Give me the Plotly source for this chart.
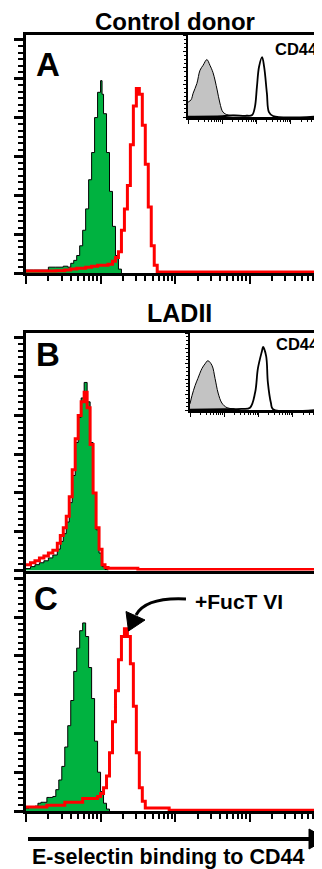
import plotly.graph_objects as go

W, H = 322, 869          # reference canvas
OFF = 8                  # page body margin that the browser adds around the plot
FW, FH = W - OFF, H - OFF

# ---------------- data (log10 fluorescence positions, event counts) ----------------
# Panel A - control donor
A_green_log = [0.00, 0.10, 0.20, 0.30, 0.40, 0.50, 0.56, 0.60, 0.64, 0.68, 0.72, 0.76, 0.80, 0.84,
               0.88, 0.92, 0.96, 1.00, 1.02, 1.04, 1.08, 1.12, 1.16, 1.20, 1.24, 1.28]
A_green_cnt = [1.5, 1.5, 1.5, 3, 3, 3.5, 3, 5, 6.5, 9, 14, 22, 33, 48,
               62, 80, 93, 99, 92, 82, 62, 42, 24, 9, 2, 0]
A_red_log = [0.00, 0.20, 0.40, 0.52, 0.60, 0.68, 0.80, 0.88, 0.96, 1.04, 1.10, 1.16, 1.20, 1.24,
             1.28, 1.32, 1.36, 1.40, 1.44, 1.48, 1.52, 1.56, 1.60, 1.64, 1.68, 1.72, 1.76, 3.97]
A_red_cnt = [1, 1, 1.2, 1.5, 2, 2.5, 3, 3.5, 4, 4, 4.5, 6, 8, 11,
             22, 33, 45, 66, 86, 95, 92, 76, 56, 34, 14, 4, 0.5, 0.5]

# Panel B - LADII
B_green_log = [0.00, 0.06, 0.12, 0.18, 0.24, 0.30, 0.36, 0.42, 0.46, 0.50, 0.54, 0.58, 0.62, 0.66,
               0.70, 0.74, 0.78, 0.82, 0.86, 0.90, 0.94, 0.98, 1.02, 1.06, 1.10]
B_green_cnt = [1, 2, 3, 4, 5, 6.5, 8, 11, 15, 19, 25, 35, 49, 66,
               79, 89, 97, 87, 66, 40, 21, 9, 2, 0.5, 0]
B_red_log = [0.00, 0.06, 0.12, 0.18, 0.24, 0.30, 0.36, 0.42, 0.46, 0.50, 0.54, 0.58, 0.62, 0.66,
             0.70, 0.74, 0.78, 0.82, 0.86, 0.90, 0.94, 0.98, 1.02, 1.06, 1.10, 1.30, 1.50, 3.97]
B_red_cnt = [3, 4, 5, 6.5, 7.5, 9, 10.5, 14, 18, 22, 28, 38, 52, 68,
             80, 87, 92, 84, 65, 40, 22, 11, 3, 1.5, 1.2, 1.2, 0.5, 0.5]

# Panel C - LADII + FucT VI
C_green_log = [0.00, 0.04, 0.08, 0.12, 0.16, 0.20, 0.24, 0.28, 0.32, 0.36, 0.40, 0.44, 0.48, 0.52,
               0.56, 0.60, 0.64, 0.68, 0.72, 0.76, 0.80, 0.84, 0.88, 0.92, 0.96, 1.00, 1.04, 1.08, 1.12]
C_green_cnt = [1.5, 2, 2, 2.5, 4, 4.5, 4.5, 7, 7, 7.5, 11, 16, 23, 33,
               44, 57, 72, 84, 93, 97, 90, 74, 58, 36, 20, 10, 4, 1, 0]
C_red_log = [0.00, 0.28, 0.52, 0.76, 0.96, 1.00, 1.04, 1.08, 1.12, 1.16, 1.20, 1.24, 1.28, 1.32,
             1.36, 1.40, 1.44, 1.48, 1.52, 1.56, 1.60, 1.92, 3.97]
C_red_cnt = [2, 3, 4.5, 6.5, 7.5, 9, 12, 18, 30, 46, 62, 78, 90, 94,
             90, 76, 54, 30, 12, 5, 1.5, 0.4, 0.4]

# Insets - CD44 expression (% of inset height)
IA_iso_log = [0.00, 0.09, 0.15, 0.26, 0.35, 0.44, 0.55, 0.64, 0.73, 0.85, 0.93, 1.02, 1.17, 1.40, 1.70]
IA_iso_val = [18, 21, 29, 41, 57, 63, 70, 63, 54, 33, 17, 6, 2.4, 2, 1.5]
IA_cd44_log = [0.00, 1.00, 1.30, 1.70, 1.87, 1.95, 2.01, 2.07, 2.16, 2.22, 2.30, 2.36, 2.48, 3.91]
IA_cd44_val = [0.5, 1, 2, 1.5, 2.4, 12, 37, 61, 73, 61, 29, 6, 1.2, 1.2]
IB_iso_log = [0.00, 0.06, 0.15, 0.23, 0.35, 0.44, 0.52, 0.64, 0.73, 0.82, 0.93, 1.08, 1.30]
IB_iso_val = [8, 19, 32, 41, 54, 60, 64, 58, 41, 22, 9, 3, 1.5]
IB_cd44_log = [0.00, 1.00, 1.50, 1.75, 1.90, 1.98, 2.10, 2.13, 2.22, 2.27, 2.36, 2.42, 3.91]
IB_cd44_val = [0.5, 1, 1.5, 3, 23, 54, 77, 82, 70, 36, 9, 1, 1]

GREEN = "rgb(0,178,64)"
RED = "rgb(255,0,0)"
GRAY = "rgb(195,195,195)"
FONT = "Liberation Sans, Arial, sans-serif"


def px(x):
    return (x - OFF) / FW


def py(y):
    return 1 - (y - OFF) / FH


def lin(v):
    return [10 ** t for t in v]


fig = go.Figure()


def panel(gl, gc, rl, rc, ax):
    fig.add_trace(go.Scatter(x=lin(gl), y=gc, mode="lines", line_shape="hv",
                             line=dict(color="black", width=1), fill="tozeroy",
                             fillcolor=GREEN, xaxis="x" + ax, yaxis="y" + ax,
                             hoverinfo="skip", showlegend=False))
    fig.add_trace(go.Scatter(x=lin(rl), y=rc, mode="lines", line_shape="hv",
                             line=dict(color=RED, width=3), xaxis="x" + ax, yaxis="y" + ax,
                             hoverinfo="skip", showlegend=False))


def inset(il, iv, cl, cv, ax):
    fig.add_trace(go.Scatter(x=lin(il), y=iv, mode="lines", line_shape="spline",
                             line=dict(color="black", width=1), fill="tozeroy",
                             fillcolor=GRAY, xaxis="x" + ax, yaxis="y" + ax,
                             hoverinfo="skip", showlegend=False))
    fig.add_trace(go.Scatter(x=lin(cl), y=cv, mode="lines", line_shape="spline",
                             line=dict(color="black", width=1.8), xaxis="x" + ax, yaxis="y" + ax,
                             hoverinfo="skip", showlegend=False))


panel(A_green_log, A_green_cnt, A_red_log, A_red_cnt, "")
panel(B_green_log, B_green_cnt, B_red_log, B_red_cnt, "2")
panel(C_green_log, C_green_cnt, C_red_log, C_red_cnt, "3")
inset(IA_iso_log, IA_iso_val, IA_cd44_log, IA_cd44_val, "4")
inset(IB_iso_log, IB_iso_val, IB_cd44_log, IB_cd44_val, "5")


def xmain(domain_y_anchor, ticks):
    d = dict(type="log", range=[0, 3.97], domain=[px(26), 1], anchor=domain_y_anchor,
             showgrid=False, zeroline=False, showline=True, linecolor="black", linewidth=3,
             mirror=True, showticklabels=False, dtick=1)
    if ticks:
        d.update(ticks="outside", ticklen=8, tickwidth=2, tickcolor="black",
                 minor=dict(ticks="outside", ticklen=5, tickwidth=1.5, tickcolor="black",
                            dtick="D1", showgrid=False))
    else:
        d.update(ticks="")
    return d


def ymain(dom, xanchor):
    return dict(range=[0, 122.5], domain=dom, anchor=xanchor, showgrid=False, zeroline=False,
                showline=True, linecolor="black", linewidth=3, showticklabels=False,
                ticks="outside", ticklen=9, tickwidth=2.5, tickcolor="black", dtick=20, tick0=0,
                minor=dict(ticks="outside", ticklen=5, tickwidth=2, tickcolor="black",
                           dtick=20 / 6, tick0=0, showgrid=False))


def xin(x0, ya, rng):
    return dict(type="log", range=[0, rng], domain=[px(x0), 1], anchor=ya, showgrid=False,
                zeroline=False, showline=True, linecolor="black", linewidth=2.5,
                showticklabels=False, ticks="outside", ticklen=4, tickwidth=1.2,
                tickcolor="black", dtick=1,
                minor=dict(ticks="outside", ticklen=2, tickwidth=1, tickcolor="black",
                           dtick="D1", showgrid=False))


def yin(dom, xa):
    return dict(range=[0, 100], domain=dom, anchor=xa, showgrid=False, zeroline=False,
                showline=True, linecolor="black", linewidth=1.5, showticklabels=False,
                ticks="outside", ticklen=3, tickwidth=1, tickcolor="black", dtick=20,
                minor=dict(ticks="outside", ticklen=2, tickwidth=1, tickcolor="black",
                           dtick=5, showgrid=False))


fig.update_layout(
    width=FW, height=FH, margin=dict(l=0, r=0, t=0, b=0),
    paper_bgcolor="white", plot_bgcolor="white", showlegend=False,
    xaxis=xmain("y", True), yaxis=ymain([py(273), py(35)], "x"),
    xaxis2=xmain("y2", False), yaxis2=ymain([py(570.5), py(333)], "x2"),
    xaxis3=xmain("y3", True), yaxis3=ymain([py(811), py(573.5)], "x3"),
    xaxis4=xin(188, "y4", (322 - 188) / 34.3), yaxis4=yin([py(117), py(35)], "x4"),
    xaxis5=xin(190, "y5", (322 - 190) / 34.3), yaxis5=yin([py(410), py(333)], "x5"),
)

ann = []


def text(t, x, y, size, xanchor="center"):
    ann.append(dict(text="<b>" + t + "</b>", x=px(x), y=py(y), xref="paper", yref="paper",
                    xanchor=xanchor, yanchor="middle", showarrow=False,
                    font=dict(family=FONT, size=size, color="black")))


text("Control donor", 175, 22, 24)
text("LADII", 179, 313, 25)
text("A", 34, 64, 33, "left")
text("B", 34, 354, 33, "left")
text("C", 32, 598, 33, "left")
text("CD44", 320, 49, 16.5, "right")
text("CD44", 321, 344, 16.5, "right")
text("+FucT VI", 193, 601, 21, "left")
text("E-selectin binding to CD44", 168, 857, 21.5)
fig.update_layout(annotations=ann)


def P(x, y):
    return f"{px(x):.5f} {py(y):.5f}"


shapes = [
    # x-axis direction arrow
    dict(type="line", xref="paper", yref="paper", x0=px(28), y0=py(839), x1=px(312), y1=py(839),
         line=dict(color="black", width=4)),
    dict(type="path", xref="paper", yref="paper",
         path=f"M {P(309, 829)} L {P(327, 839)} L {P(309, 849)} Z",
         fillcolor="black", line=dict(color="black", width=1)),
    # curved pointer for +FucT VI
    dict(type="path", xref="paper", yref="paper",
         path=f"M {P(186, 599)} Q {P(146, 597)} {P(136, 615)}",
         line=dict(color="black", width=3)),
    dict(type="path", xref="paper", yref="paper",
         path=f"M {P(128.5, 631)} L {P(126, 611.5)} L {P(145, 620)} Z",
         fillcolor="black", line=dict(color="black", width=1)),
]
fig.update_layout(shapes=shapes)

fig.write_html("out.html")
